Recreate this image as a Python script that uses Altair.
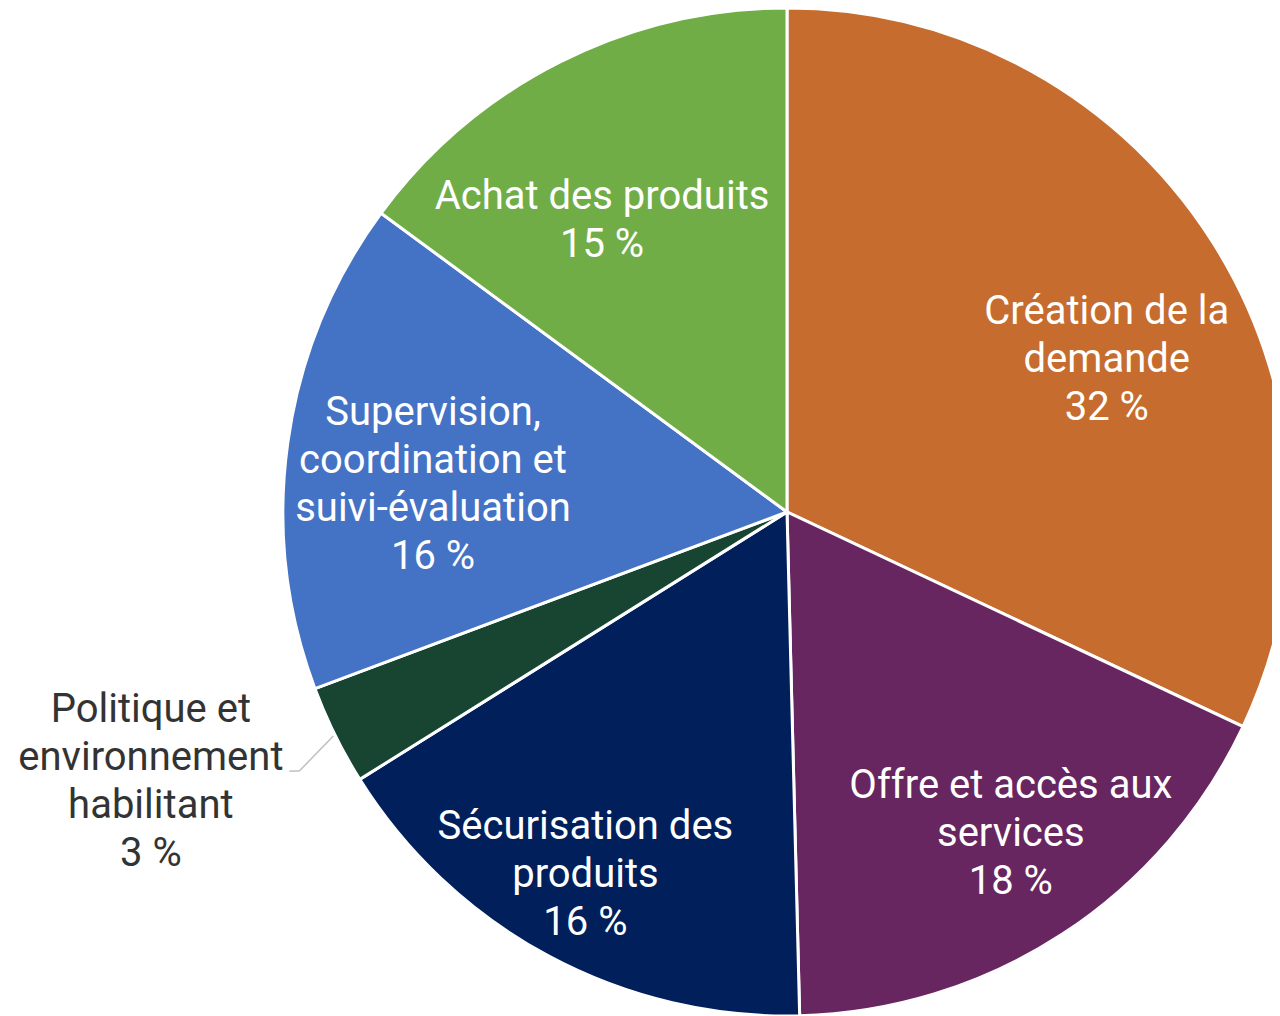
import altair as alt
import pandas as pd

# ---- data (clockwise from 12 o'clock) ----
CATEGORIES = [
    "Création de la demande",
    "Offre et accès aux services",
    "Sécurisation des produits",
    "Politique et environnement habilitant",
    "Supervision, coordination et suivi-évaluation",
    "Achat des produits",
]
VALUES = [32.0, 17.6, 16.5, 3.2, 15.8, 14.9]
PCT_LABELS = ["32 %", "18 %", "16 %", "3 %", "16 %", "15 %"]
LABEL_TEXT = [
    "Création de la\ndemande",
    "Offre et accès aux\nservices",
    "Sécurisation des\nproduits",
    "Politique et\nenvironnement\nhabilitant",
    "Supervision,\ncoordination et\nsuivi-évaluation",
    "Achat des produits",
]

# ---- styles / layout ----
COLORS = ["#C66C2E", "#672660", "#001F5B", "#174532", "#4472C4", "#70AD47"]
LABEL_COLORS = ["white", "white", "white", "#333333", "white", "white"]
LABEL_RADIUS = [354, 392, 415, 691, 355, 345]
LABEL_NUDGE_DEG = [7.0, -1.7, 0.8, 3.3, -3.6, -5.6]

W = H = 800
R = 504
FONT = "Roboto"
FS = 40
LH = 48

texts = [t + "\n" + p for t, p in zip(LABEL_TEXT, PCT_LABELS)]
df = pd.DataFrame({
    "category": CATEGORIES,
    "value": VALUES,
    "text": texts,
    "nlines": [t.count("\n") + 1 for t in texts],
    "order": list(range(len(CATEGORIES))),
    "tcolor": LABEL_COLORS,
    "lr": LABEL_RADIUS,
    "nudge": LABEL_NUDGE_DEG,
})

base = alt.Chart(df)

pie = base.mark_arc(outerRadius=R, stroke="white", strokeWidth=3).encode(
    theta=alt.Theta("value:Q", stack=True),
    color=alt.Color("category:N", scale=alt.Scale(domain=CATEGORIES, range=COLORS), legend=None),
    order=alt.Order("order:Q"),
)

geo = (
    base.transform_window(cum="sum(value)", sort=[alt.SortField("order")], frame=[None, 0])
    .transform_joinaggregate(total="sum(value)")
    .transform_calculate(
        mid="(datum.cum - datum.value/2) / datum.total * 2 * PI",
        ang="datum.mid + datum.nudge * PI / 180",
        lx=f"{W/2} + datum.lr * sin(datum.ang)",
        ly=f"{H/2} - datum.lr * cos(datum.ang) - (datum.nlines - 1) * {LH/2}",
        ax=f"{W/2} + {R + 2} * sin(datum.mid)",
        ay=f"{H/2} - {R + 2} * cos(datum.mid)",
        bx="datum.ax - 34",
        by="datum.ay + 35",
        cx="datum.bx - 10",
    )
)

labels = geo.mark_text(
    font=FONT, fontSize=FS, lineBreak="\n", lineHeight=LH,
    align="center", baseline="middle",
).encode(
    x=alt.X("lx:Q", scale=None, axis=None),
    y=alt.Y("ly:Q", scale=None, axis=None),
    text="text:N",
    color=alt.Color("tcolor:N", scale=None),
)

leader_src = geo.transform_filter(alt.datum.lr > R)
leader1 = leader_src.mark_rule(color="#BFBFBF", strokeWidth=1.5).encode(
    x=alt.X("ax:Q", scale=None, axis=None),
    y=alt.Y("ay:Q", scale=None, axis=None),
    x2="bx:Q",
    y2="by:Q",
)
leader2 = leader_src.mark_rule(color="#BFBFBF", strokeWidth=1.5).encode(
    x=alt.X("bx:Q", scale=None, axis=None),
    y=alt.Y("by:Q", scale=None, axis=None),
    x2="cx:Q",
    y2="by:Q",
)

chart = (
    alt.layer(pie, leader1, leader2, labels)
    .properties(
        width=W,
        height=H,
        padding={"left": 379, "top": 104, "right": 85, "bottom": 104},
        autosize=alt.AutoSizeParams(type="none"),
        background="white",
    )
    .configure_view(stroke=None)
)

chart.save("out.html", embed_options={"renderer": "svg", "actions": False})
